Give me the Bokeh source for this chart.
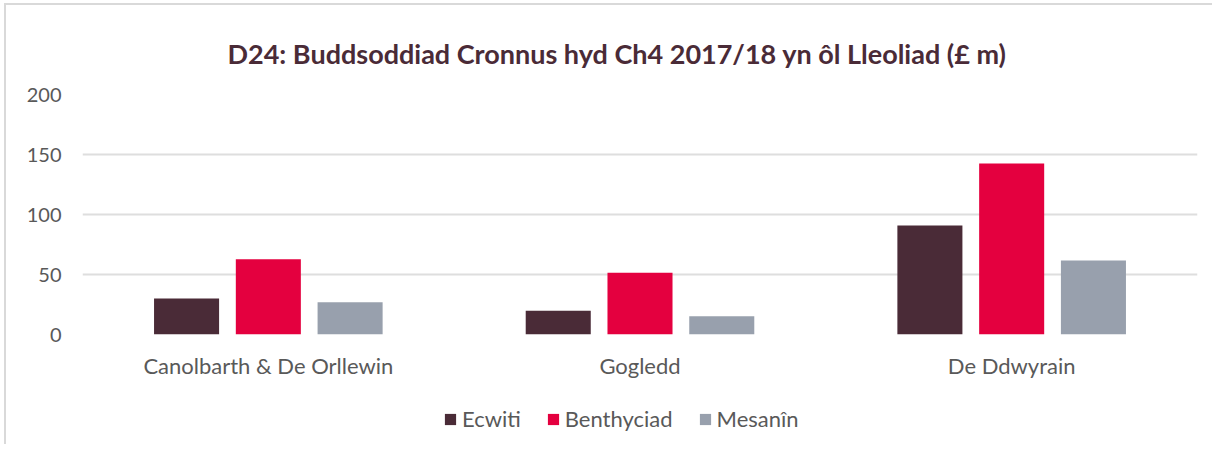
from bokeh.plotting import figure
from bokeh.layouts import column
from bokeh.models import Range1d, FactorRange, Legend, LegendItem, ColumnDataSource, FixedTicker, Title
from bokeh.transform import dodge
from bokeh.embed import file_html
from bokeh.resources import INLINE

categories = ["Canolbarth & De Orllewin", "Gogledd", "De Ddwyrain"]
series = ["Ecwiti", "Benthyciad", "Mesanîn"]
ecwiti = [30.0, 19.7, 90.8]
benthyciad = [62.8, 51.4, 142.5]
mesanin = [26.9, 15.3, 61.7]
colors = ["#4A2B37", "#E4003F", "#98A0AD"]
y_ticks = [0, 50, 100, 150, 200]
title_text = "D24: Buddsoddiad Cronnus hyd Ch4 2017/18 yn ôl Lleoliad (£ m)"

FONT = "Lato"
TXT = "#595959"

src = ColumnDataSource(dict(cat=categories, Ecwiti=ecwiti, Benthyciad=benthyciad, Mesanin=mesanin))

p = figure(frame_width=1115, frame_height=240, x_range=FactorRange(*categories), y_range=Range1d(0, 200),
           output_backend="svg", toolbar_location=None,
           min_border_left=76, min_border_right=15, min_border_top=89, min_border_bottom=60)

p.title = Title(text=title_text, align="left", offset=145, standoff=49,
                text_font=FONT, text_font_size="27px", text_font_style="bold",
                text_color="#4A2B37", text_line_height=0.75)

p.outline_line_color = None
p.background_fill_color = "white"
p.border_fill_color = "white"

p.xgrid.grid_line_color = None
p.ygrid.grid_line_color = "#DEDEDE"
p.ygrid.grid_line_width = 2
p.yaxis.ticker = FixedTicker(ticks=y_ticks)

p.yaxis.axis_line_color = None
p.yaxis.major_tick_line_color = None
p.yaxis.minor_tick_line_color = None
p.yaxis.major_tick_out = 0
p.yaxis.major_label_standoff = 21
p.yaxis.major_label_text_font = FONT
p.yaxis.major_label_text_font_size = "20px"
p.yaxis.major_label_text_color = TXT

p.xaxis.axis_line_color = None
p.xaxis.major_tick_line_color = None
p.xaxis.major_tick_out = 0
p.xaxis.major_label_standoff = 17
p.xaxis.major_label_text_font = FONT
p.xaxis.major_label_text_font_size = "22px"
p.xaxis.major_label_text_color = TXT

fields = ["Ecwiti", "Benthyciad", "Mesanin"]
offsets = [-0.22, 0.0, 0.22]
for field, off, col in zip(fields, offsets, colors):
    p.vbar(x=dodge("cat", off, range=p.x_range), top=field, width=0.175, bottom=0,
           source=src, fill_color=col, line_color=None)

# legend strip below the chart (swatch renderers sit outside the strip's visible range)
q = figure(width=1206, height=50, output_backend="svg", toolbar_location=None,
           x_range=Range1d(0, 1), y_range=Range1d(0, 1),
           x_axis_type=None, y_axis_type=None, min_border=0)
q.outline_line_color = None
q.grid.grid_line_color = None
items = []
for name, col in zip(series, colors):
    r = q.vbar(x=[-1], top=[0], width=0.5, fill_color=col, line_color=None)
    items.append(LegendItem(label=name, renderers=[r]))

legend = Legend(items=items, orientation="horizontal", location=(361, 12),
                glyph_width=14, glyph_height=14, label_standoff=5, spacing=25,
                padding=0, margin=0, border_line_color=None, background_fill_alpha=0,
                label_text_font=FONT, label_text_font_size="22px", label_text_color=TXT)
q.add_layout(legend, "center")

layout = column(p, q, spacing=0,
                styles={"border-left": "2px solid #D9D9D9", "border-top": "2px solid #D9D9D9",
                        "margin-left": "4px", "margin-top": "3px"})

open("out.html", "w").write(file_html(layout, INLINE))
